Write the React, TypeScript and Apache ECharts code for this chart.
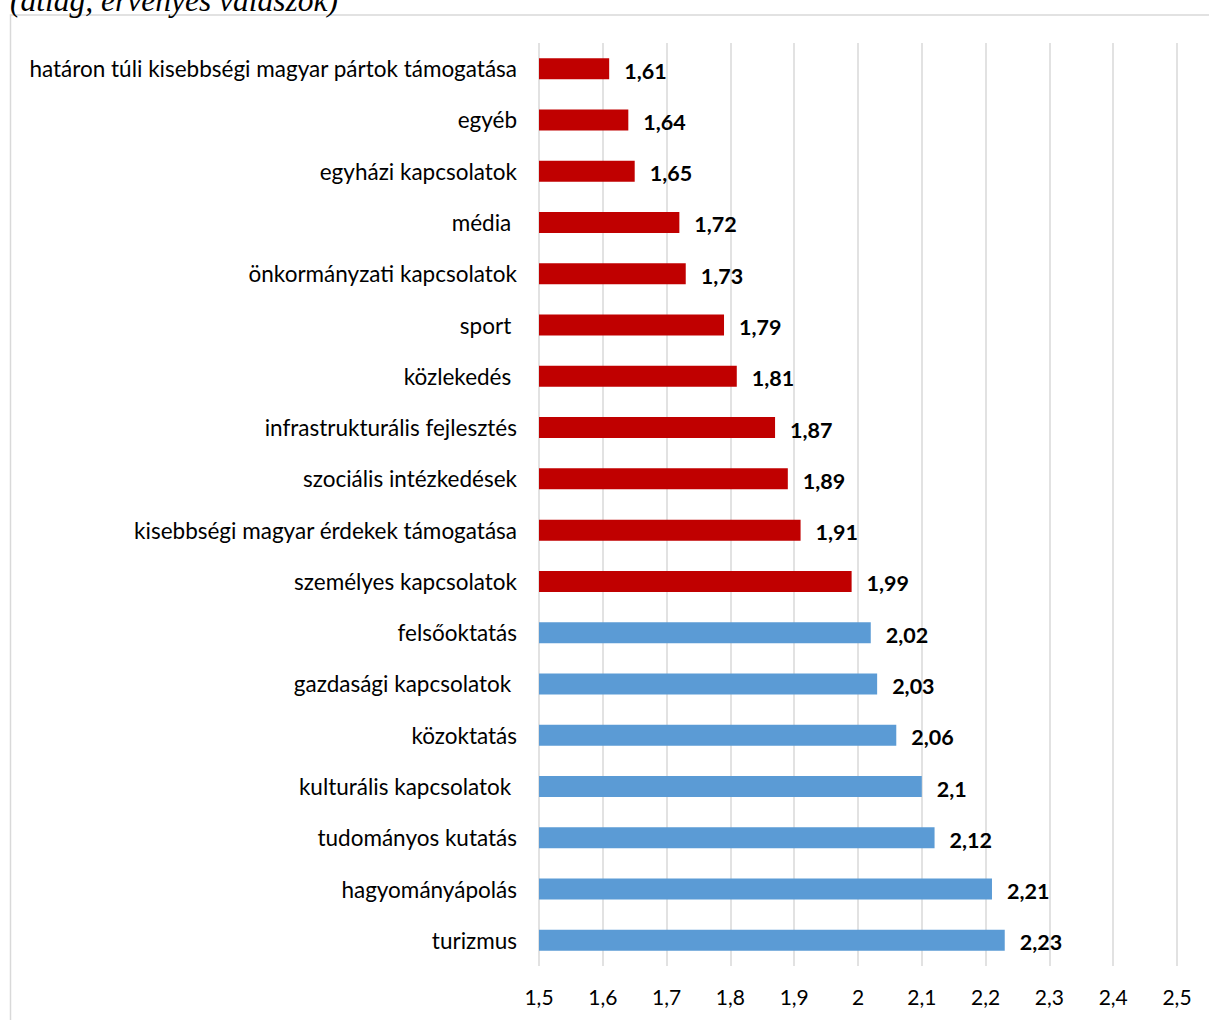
import React, { useEffect, useRef } from "react";
import * as echarts from "echarts";

const categories: string[] = [
  "határon túli kisebbségi magyar pártok támogatása",
  "egyéb",
  "egyházi kapcsolatok",
  "média ",
  "önkormányzati kapcsolatok",
  "sport ",
  "közlekedés ",
  "infrastrukturális fejlesztés",
  "szociális intézkedések",
  "kisebbségi magyar érdekek támogatása",
  "személyes kapcsolatok",
  "felsőoktatás",
  "gazdasági kapcsolatok ",
  "közoktatás",
  "kulturális kapcsolatok ",
  "tudományos kutatás",
  "hagyományápolás",
  "turizmus",
];

const values: number[] = [
  1.61, 1.64, 1.65, 1.72, 1.73, 1.79, 1.81, 1.87, 1.89, 1.91, 1.99, 2.02, 2.03,
  2.06, 2.1, 2.12, 2.21, 2.23,
];

const titleText = "(átlag, érvényes válaszok)";
const axisMin = 1.5;
const axisMax = 2.5;
const axisStep = 0.1;

const RED = "#C00000";
const BLUE = "#5B9BD5";
const GRID = "#D9D9D9";
const FONT = "Lato, 'Noto Sans', sans-serif";

const fmt = (v: number) => String(Math.round(v * 100) / 100).replace(".", ",");

export default function App() {
  const ref = useRef<HTMLDivElement>(null);
  useEffect(() => {
    if (!ref.current) return;
    const chart = echarts.init(ref.current, undefined, { renderer: "svg" });
    chart.setOption({
      animation: false,
      backgroundColor: "#ffffff",
      textStyle: { fontFamily: FONT },
      graphic: [
        {
          type: "rect",
          shape: { x: 10.5, y: 15, width: 1400, height: 1200 },
          style: { fill: "none", stroke: GRID, lineWidth: 1.5 },
          silent: true,
        },
        {
          type: "text",
          x: 10,
          y: 0,
          style: {
            text: titleText,
            font: "italic 31.5px 'Liberation Serif', 'Times New Roman', serif",
            fill: "#000",
            textAlign: "left",
            textVerticalAlign: "middle",
          },
          silent: true,
        },
      ],
      grid: { left: 539, right: 32, top: 43, bottom: 54, containLabel: false },
      xAxis: {
        type: "value",
        min: axisMin,
        max: axisMax,
        interval: axisStep,
        axisLine: { show: false },
        axisTick: { show: false },
        splitLine: { show: true, lineStyle: { color: GRID, width: 1.5 } },
        axisLabel: {
          fontSize: 21,
          color: "#000",
          fontFamily: FONT,
          margin: 20,
          formatter: (v: number) => String(Math.round(v * 10) / 10).replace(".", ","),
        },
      },
      yAxis: {
        type: "category",
        inverse: true,
        data: categories,
        axisLine: { show: false },
        axisTick: { show: false },
        axisLabel: {
          fontSize: 22.5,
          color: "#000",
          fontFamily: FONT,
          margin: 22,
          formatter: (s: string) => s.replace(/ $/, "\u00A0"),
        },
      },
      series: [
        {
          type: "bar",
          barWidth: 21,
          data: values.map((v) => ({
            value: v,
            itemStyle: { color: v < 2 ? RED : BLUE },
          })),
          label: {
            show: true,
            position: "right",
            distance: 15,
            offset: [0, 2],
            fontSize: 21.5,
            fontWeight: "bold",
            color: "#000",
            fontFamily: FONT,
            formatter: (p: any) => fmt(p.value),
          },
        },
      ],
    });
    return () => chart.dispose();
  }, []);
  return (
    <div
      ref={ref}
      style={{ position: "absolute", left: 0, top: 0, width: 1209, height: 1020 }}
    />
  );
}
